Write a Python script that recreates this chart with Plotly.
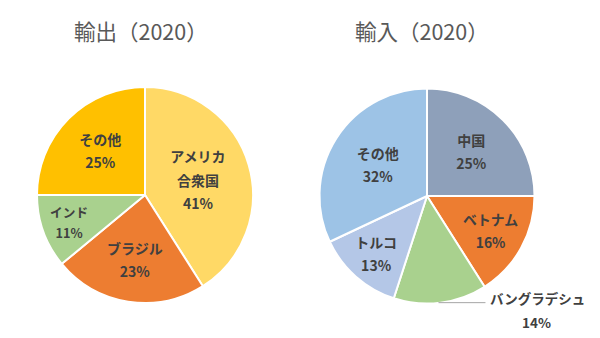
import math
import plotly.graph_objects as go

# ---- data ----
export_labels = ["アメリカ合衆国", "ブラジル", "インド", "その他"]
export_display = ["アメリカ<br>合衆国", "ブラジル", "インド", "その他"]
export_values = [41, 23, 11, 25]
export_colors = ["#FFD966", "#ED7D31", "#A9D18E", "#FFC000"]

import_labels = ["中国", "ベトナム", "バングラデシュ", "トルコ", "その他"]
import_display = ["中国", "ベトナム", "バングラデシュ", "トルコ", "その他"]
import_values = [25, 16, 14, 13, 32]
import_colors = ["#8EA0BA", "#ED7D31", "#A9D18E", "#B4C7E7", "#9DC3E6"]

titles = ["輸出（2020）", "輸入（2020）"]
outside_label = "バングラデシュ"

W, H = 600, 338
FONT = "Noto Sans CJK JP"
TXT = "#404040"
FS = 14          # visible label size
LINE_FS = 18     # base size controlling line spacing (~1.3em)

# pie geometry (pixels)
left_c, left_r = (145, 195), 108
right_c, right_r = (427, 196), 107.5


def domain(c, r):
    cx, cy = c
    return dict(x=[(cx - r) / W, (cx + r) / W],
                y=[1 - (cy + r) / H, 1 - (cy - r) / H])


def span(s):
    return f"<span style='font-size:{FS}px'><b>{s}</b></span>"


TMPL = span("%{text}") + "<br>" + span("%{percent:.0%}")

fig = go.Figure()

fig.add_trace(go.Pie(
    labels=export_labels, values=export_values,
    text=[t.replace("<br>", "</b></span><br><span style='font-size:%dpx'><b>" % FS)
          for t in export_display],
    texttemplate=TMPL,
    textposition="inside", insidetextorientation="horizontal",
    sort=False, direction="clockwise", rotation=0,
    marker=dict(colors=export_colors, line=dict(color="white", width=2)),
    textfont=dict(family=FONT, size=LINE_FS, color=TXT),
    domain=domain(left_c, left_r), showlegend=False, hoverinfo="label+percent",
))

imp_tmpl = ["" if l == outside_label else TMPL for l in import_labels]
fig.add_trace(go.Pie(
    labels=import_labels, values=import_values, text=import_display,
    texttemplate=imp_tmpl,
    textposition="inside", insidetextorientation="horizontal",
    sort=False, direction="clockwise", rotation=0,
    marker=dict(colors=import_colors, line=dict(color="white", width=2)),
    textfont=dict(family=FONT, size=LINE_FS, color=TXT),
    domain=domain(right_c, right_r), showlegend=False, hoverinfo="label+percent",
))

# outside label for バングラデシュ, positioned from data
idx = import_labels.index(outside_label)
total = sum(import_values)
start = sum(import_values[:idx])
mid = (start + import_values[idx] / 2) / total * 2 * math.pi
ex = right_c[0] + right_r * math.sin(mid)
ey = right_c[1] - right_r * math.cos(mid)
pct = round(import_values[idx] / total * 100)

fig.add_shape(type="line", xref="paper", yref="paper",
              x0=(ex - 2) / W, x1=(ex + 45) / W, y0=1 - ey / H, y1=1 - ey / H,
              line=dict(color="#A6A6A6", width=1))
fig.add_annotation(xref="paper", yref="paper", x=(ex + 48) / W, y=1 - (ey - 5) / H,
                   xanchor="left", yanchor="middle", showarrow=False,
                   text=f"<b>{outside_label}</b>",
                   font=dict(family=FONT, size=13.5, color=TXT))
fig.add_annotation(xref="paper", yref="paper", x=(ex + 96) / W, y=1 - (ey + 19) / H,
                   xanchor="center", yanchor="middle", showarrow=False,
                   text=f"<b>{pct}%</b>",
                   font=dict(family=FONT, size=13.5, color=TXT))

# titles
for t, cx in zip(titles, [140.5, 421.5]):
    fig.add_annotation(xref="paper", yref="paper", x=cx / W, y=1 - 30 / H,
                       xanchor="center", yanchor="middle", showarrow=False,
                       text=t, font=dict(family=FONT, size=21.5, color="#595959"))

fig.update_layout(width=W, height=H, margin=dict(l=0, r=0, t=0, b=0),
                  paper_bgcolor="white", plot_bgcolor="white")
fig.write_html("out.html")
